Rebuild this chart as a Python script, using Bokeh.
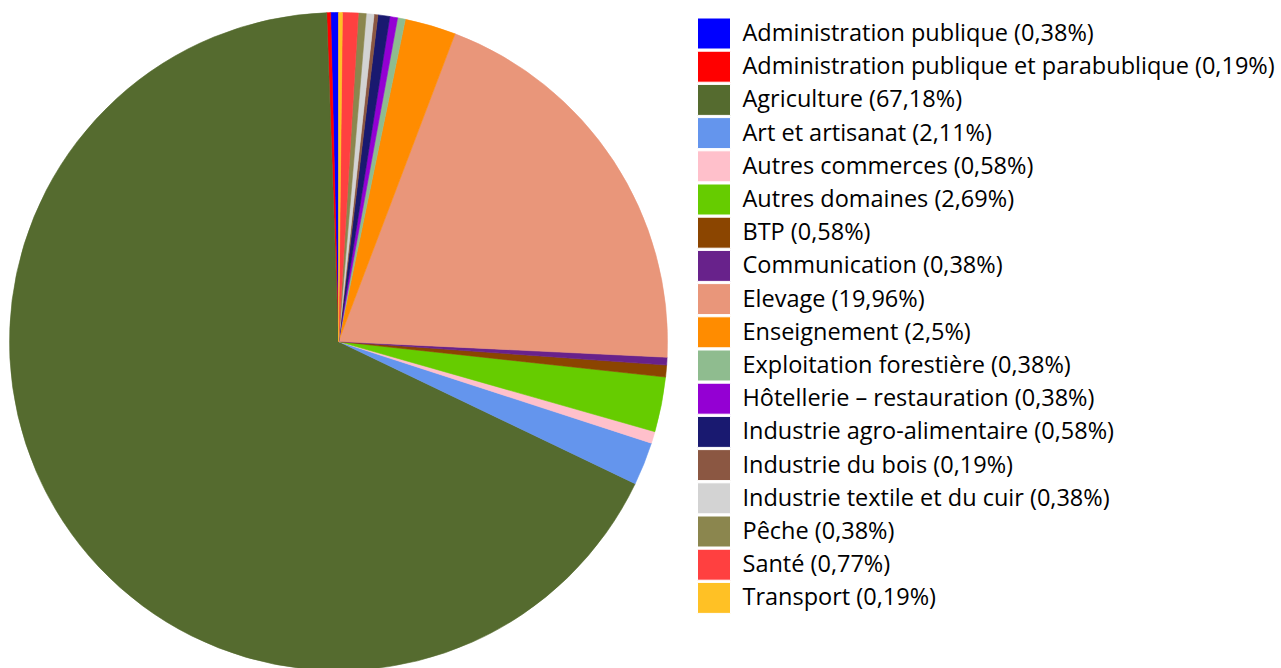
import numpy as np
from bokeh.plotting import figure
from bokeh.models import ColumnDataSource, Range1d
from bokeh.core.properties import value
from bokeh.embed import file_html
from bokeh.resources import INLINE

categories = [
    "Administration publique",
    "Administration publique et parabublique",
    "Agriculture",
    "Art et artisanat",
    "Autres commerces",
    "Autres domaines",
    "BTP",
    "Communication",
    "Elevage",
    "Enseignement",
    "Exploitation forestière",
    "Hôtellerie – restauration",
    "Industrie agro-alimentaire",
    "Industrie du bois",
    "Industrie textile et du cuir",
    "Pêche",
    "Santé",
    "Transport",
]
percents = [0.38, 0.19, 67.18, 2.11, 0.58, 2.69, 0.58, 0.38, 19.96, 2.5,
            0.38, 0.38, 0.58, 0.19, 0.38, 0.38, 0.77, 0.19]
colors = ["#0000FF", "#FF0000", "#556B2F", "#6495ED", "#FFC0CB", "#66CC00",
          "#8B4500", "#68228B", "#E9967A", "#FF8C00", "#8FBC8F", "#9400D3",
          "#191970", "#8B5742", "#D3D3D3", "#8B864E", "#FF4040", "#FFC125"]

W, H = 1281, 668

vals = np.array(percents, dtype=float)
frac = vals / vals.sum()
ang = frac * 2 * np.pi
starts = np.pi / 2 + np.concatenate([[0], np.cumsum(ang)[:-1]])
ends = starts + ang

labels = [f"{c} ({str(v).replace('.', ',')}%)" for c, v in zip(categories, percents)]

p = figure(width=W, height=H, output_backend="svg", toolbar_location=None,
           x_range=Range1d(0, W), y_range=Range1d(0, H), min_border=0)
p.axis.visible = False
p.grid.visible = False
p.outline_line_color = None
p.background_fill_color = "white"

cx, cy, r = 338, H - 341, 329
src = ColumnDataSource(dict(start=starts, end=ends, color=colors))
p.wedge(x=cx, y=cy, radius=r, start_angle="start", end_angle="end",
        direction="anticlock", fill_color="color", line_color="color",
        line_width=0.6, source=src)

n = len(categories)
idx = np.arange(n)
row_y = H - (33 + 33.2 * idx)
leg = ColumnDataSource(dict(x=[713.5] * n, y=row_y, color=colors,
                            tx=[742] * n, ty=row_y + 1.5, label=labels))
p.rect(x="x", y="y", width=33, height=31, fill_color="color",
       line_color="white", line_width=1, source=leg)
p.text(x="tx", y="ty", text="label", text_font=value("Open Sans"),
       text_font_size="23.5px", text_baseline="middle", text_align="left",
       text_color="black", source=leg)

open("out.html", "w").write(file_html(p, INLINE))
